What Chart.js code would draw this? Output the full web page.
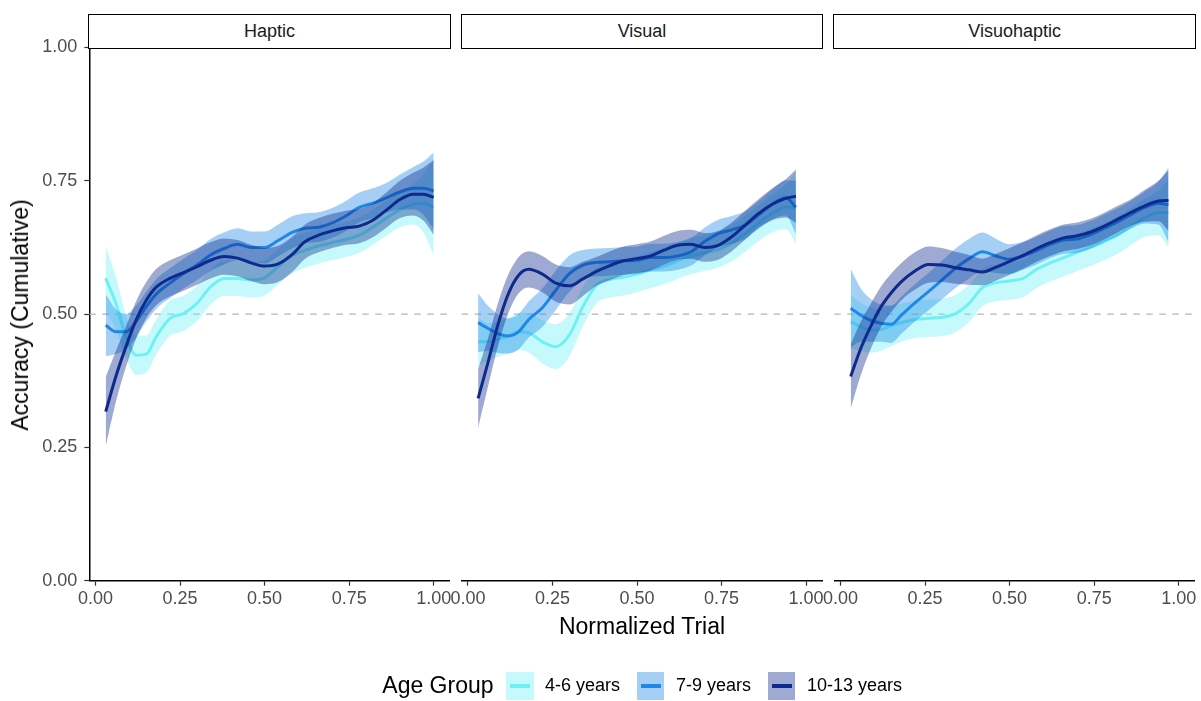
<!DOCTYPE html>
<html>
<head>
<meta charset="utf-8">
<title>Accuracy by age group and condition</title>
<script src="https://cdn.jsdelivr.net/npm/chart.js@4.4.1/dist/chart.umd.min.js"></script>
<style>
  html, body { margin: 0; padding: 0; background: #fff; }
  #page { position: relative; width: 1201px; height: 701px; overflow: hidden;
          font-family: "Liberation Sans", Arial, sans-serif; }
  canvas { position: absolute; left: 0; top: 0; }
  .strip { position: absolute; top: 13.5px; height: 35px; box-sizing: border-box;
           border: 1.8px solid #000; background: #fff; display: flex;
           align-items: center; justify-content: center; font-size: 18px; color: #1a1a1a; }
  .axis-title { position: absolute; font-size: 23px; line-height: 26px; color: #000; white-space: nowrap; }
  #ytitle { left: 20px; top: 315px; transform: translate(-50%, -50%) rotate(-90deg); }
  #xtitle { left: 642px; top: 612.5px; transform: translateX(-50%); }
  #legend { position: absolute; left: 89.3px; width: 1105.7px; top: 671.7px; height: 28.5px;
            display: flex; align-items: center; justify-content: center; }
  #legend .title { font-size: 23px; color: #000; margin-right: 12.6px; }
  #legend .key { position: relative; width: 27.4px; height: 28.5px; margin-right: 11.5px; }
  #legend .key span { position: absolute; left: 3.7px; width: 20px; top: 12.7px; height: 3.2px; }
  #legend .label { font-size: 18px; color: #000; margin-right: 17px; }
  #legend .label:last-child { margin-right: 0; }
</style>
</head>
<body>
<div id="page">
  <canvas id="panel0" width="1201" height="701"></canvas>
  <canvas id="panel1" width="1201" height="701"></canvas>
  <canvas id="panel2" width="1201" height="701"></canvas>
  <div class="axis-title" id="ytitle">Accuracy (Cumulative)</div>
  <div class="axis-title" id="xtitle">Normalized Trial</div>
  <div id="legend"></div>
</div>
<script>
// ---- data ---------------------------------------------------------------
const conditions = ['Haptic', 'Visual', 'Visuohaptic'];
const ageGroups = ['4-6 years', '7-9 years', '10-13 years'];
const legendTitle = 'Age Group';

const tickValues = [0, 0.25, 0.5, 0.75, 1];
const tickLabels = ['0.00', '0.25', '0.50', '0.75', '1.00'];
const chanceLevel = 0.5;

const hapticTrial = [0.03,0.06,0.09,0.12,0.15,0.18,0.22,0.26,0.30,0.34,0.38,0.42,0.46,0.50,0.54,0.58,0.62,0.66,0.70,0.74,0.78,0.82,0.86,0.90,0.94,0.97,1.00];
const visualTrial = [0.03,0.06,0.09,0.12,0.15,0.18,0.22,0.26,0.30,0.34,0.38,0.42,0.46,0.50,0.54,0.58,0.62,0.66,0.70,0.74,0.78,0.82,0.86,0.90,0.94,0.97];
const visuohapticTrial = [0.03,0.06,0.09,0.12,0.15,0.18,0.22,0.26,0.30,0.34,0.38,0.42,0.46,0.50,0.54,0.58,0.62,0.66,0.70,0.74,0.78,0.82,0.86,0.90,0.94,0.97];

// Haptic
const haptic4to6Fit   = [0.567,0.520,0.458,0.423,0.425,0.458,0.492,0.501,0.520,0.551,0.567,0.567,0.564,0.568,0.589,0.609,0.620,0.628,0.634,0.640,0.648,0.663,0.680,0.696,0.706,0.708,0.700];
const haptic4to6Lower = [0.507,0.470,0.418,0.386,0.390,0.425,0.459,0.468,0.487,0.518,0.534,0.534,0.531,0.535,0.556,0.576,0.587,0.595,0.601,0.607,0.615,0.630,0.647,0.663,0.668,0.653,0.610];
const haptic4to6Upper = [0.627,0.570,0.498,0.460,0.460,0.491,0.525,0.534,0.553,0.584,0.600,0.600,0.597,0.601,0.622,0.642,0.653,0.661,0.667,0.673,0.681,0.696,0.713,0.729,0.744,0.763,0.790];

const haptic7to9Fit   = [0.479,0.467,0.467,0.486,0.514,0.538,0.558,0.576,0.592,0.611,0.623,0.631,0.625,0.625,0.638,0.653,0.661,0.663,0.671,0.684,0.700,0.708,0.718,0.729,0.736,0.736,0.731];
const haptic7to9Lower = [0.421,0.425,0.434,0.456,0.486,0.510,0.530,0.548,0.564,0.581,0.593,0.601,0.595,0.595,0.608,0.623,0.633,0.635,0.643,0.656,0.672,0.680,0.690,0.696,0.696,0.686,0.659];
const haptic7to9Upper = [0.537,0.509,0.500,0.516,0.542,0.566,0.586,0.604,0.620,0.641,0.653,0.661,0.655,0.655,0.668,0.683,0.689,0.691,0.699,0.712,0.728,0.736,0.746,0.762,0.776,0.786,0.803];

const haptic10to13Fit   = [0.317,0.383,0.439,0.489,0.526,0.551,0.567,0.578,0.589,0.601,0.608,0.605,0.596,0.590,0.594,0.611,0.636,0.648,0.656,0.662,0.665,0.676,0.695,0.715,0.725,0.725,0.719];
const haptic10to13Lower = [0.252,0.335,0.401,0.454,0.492,0.517,0.533,0.544,0.555,0.567,0.574,0.571,0.562,0.556,0.560,0.578,0.604,0.616,0.624,0.630,0.633,0.644,0.662,0.680,0.685,0.675,0.649];
const haptic10to13Upper = [0.382,0.431,0.477,0.524,0.560,0.585,0.601,0.612,0.623,0.635,0.642,0.639,0.630,0.624,0.628,0.644,0.668,0.680,0.688,0.694,0.697,0.708,0.728,0.750,0.765,0.775,0.789];

// Visual
const visual4to6Fit   = [0.448,0.448,0.453,0.459,0.467,0.465,0.448,0.439,0.461,0.514,0.554,0.565,0.569,0.575,0.583,0.590,0.600,0.609,0.615,0.621,0.633,0.651,0.671,0.689,0.701,0.700];
const visual4to6Lower = [0.403,0.413,0.420,0.426,0.432,0.428,0.408,0.397,0.421,0.477,0.520,0.531,0.535,0.541,0.549,0.556,0.566,0.575,0.581,0.587,0.599,0.617,0.637,0.653,0.659,0.632];
const visual4to6Upper = [0.493,0.483,0.486,0.492,0.502,0.502,0.488,0.481,0.501,0.551,0.588,0.599,0.603,0.609,0.617,0.624,0.634,0.643,0.649,0.655,0.667,0.685,0.705,0.725,0.743,0.768];

const visual7to9Fit   = [0.484,0.473,0.463,0.459,0.467,0.490,0.512,0.545,0.576,0.592,0.597,0.598,0.600,0.601,0.606,0.606,0.609,0.617,0.636,0.651,0.658,0.667,0.686,0.706,0.718,0.700];
const visual7to9Lower = [0.429,0.431,0.427,0.426,0.434,0.456,0.476,0.508,0.542,0.564,0.571,0.572,0.574,0.575,0.580,0.580,0.583,0.591,0.610,0.625,0.632,0.641,0.660,0.678,0.685,0.650];
const visual7to9Upper = [0.539,0.515,0.499,0.492,0.500,0.524,0.548,0.582,0.610,0.620,0.623,0.624,0.626,0.627,0.632,0.632,0.635,0.643,0.662,0.677,0.684,0.693,0.712,0.734,0.751,0.750];

const visual10to13Fit   = [0.342,0.411,0.483,0.539,0.573,0.584,0.575,0.558,0.553,0.566,0.580,0.591,0.600,0.604,0.609,0.620,0.629,0.631,0.625,0.629,0.645,0.667,0.689,0.706,0.717,0.721];
const visual10to13Lower = [0.287,0.366,0.443,0.503,0.539,0.550,0.541,0.523,0.518,0.534,0.553,0.564,0.573,0.577,0.582,0.593,0.602,0.604,0.598,0.602,0.618,0.640,0.662,0.676,0.681,0.671];
const visual10to13Upper = [0.397,0.456,0.523,0.575,0.607,0.618,0.609,0.593,0.588,0.598,0.607,0.618,0.627,0.631,0.636,0.647,0.656,0.658,0.652,0.656,0.672,0.694,0.716,0.736,0.753,0.771];

// Visuohaptic
const visuohaptic4to6Fit   = [0.486,0.476,0.470,0.471,0.478,0.484,0.490,0.492,0.494,0.501,0.520,0.550,0.559,0.562,0.567,0.584,0.596,0.606,0.616,0.625,0.636,0.648,0.665,0.681,0.690,0.690];
const visuohaptic4to6Lower = [0.436,0.431,0.428,0.431,0.440,0.448,0.455,0.457,0.459,0.466,0.485,0.515,0.524,0.527,0.532,0.549,0.561,0.571,0.581,0.590,0.601,0.613,0.630,0.645,0.648,0.625];
const visuohaptic4to6Upper = [0.536,0.521,0.512,0.511,0.516,0.520,0.525,0.527,0.529,0.536,0.555,0.585,0.594,0.597,0.602,0.619,0.631,0.641,0.651,0.660,0.671,0.683,0.700,0.717,0.732,0.755];

const visuohaptic7to9Fit   = [0.511,0.498,0.488,0.483,0.481,0.498,0.521,0.542,0.564,0.586,0.604,0.617,0.609,0.603,0.609,0.619,0.631,0.639,0.641,0.649,0.661,0.673,0.687,0.700,0.708,0.705];
const visuohaptic7to9Lower = [0.437,0.448,0.448,0.448,0.446,0.463,0.486,0.507,0.528,0.549,0.567,0.581,0.577,0.575,0.583,0.593,0.605,0.613,0.615,0.623,0.635,0.647,0.661,0.670,0.668,0.635];
const visuohaptic7to9Upper = [0.585,0.548,0.528,0.518,0.516,0.533,0.556,0.577,0.600,0.623,0.641,0.653,0.641,0.631,0.635,0.645,0.657,0.665,0.667,0.675,0.687,0.699,0.713,0.730,0.748,0.775];

const visuohaptic10to13Fit   = [0.383,0.436,0.478,0.514,0.540,0.561,0.581,0.593,0.592,0.587,0.583,0.579,0.588,0.599,0.610,0.623,0.634,0.643,0.647,0.654,0.665,0.678,0.691,0.703,0.712,0.713];
const visuohaptic10to13Lower = [0.323,0.386,0.436,0.476,0.504,0.526,0.546,0.559,0.560,0.557,0.555,0.554,0.563,0.574,0.585,0.598,0.609,0.618,0.622,0.629,0.640,0.653,0.666,0.673,0.674,0.656];
const visuohaptic10to13Upper = [0.443,0.486,0.520,0.552,0.576,0.596,0.616,0.627,0.624,0.617,0.611,0.604,0.613,0.624,0.635,0.648,0.659,0.668,0.672,0.679,0.690,0.703,0.716,0.733,0.750,0.770];

// ---- styling ------------------------------------------------------------
const lineColours = ['#6ff0f5', '#1e88e5', '#0d2a8c'];
const bandColours = ['rgba(111,240,245,0.4)', 'rgba(30,136,229,0.4)', 'rgba(13,42,140,0.4)'];

const PAGE_W = 1201, PAGE_H = 701;
const panelLeft = [89.3, 461.7, 834.3];
const panelWidth = 360.6;
const panelTop = 47.5, panelBottom = 580.7;
const xAxisHeight = 40;

Chart.defaults.font.family = '"Liberation Sans", Arial, sans-serif';

const panels = [
  { trial: hapticTrial, groups: [
      [haptic4to6Fit, haptic4to6Lower, haptic4to6Upper],
      [haptic7to9Fit, haptic7to9Lower, haptic7to9Upper],
      [haptic10to13Fit, haptic10to13Lower, haptic10to13Upper] ] },
  { trial: visualTrial, groups: [
      [visual4to6Fit, visual4to6Lower, visual4to6Upper],
      [visual7to9Fit, visual7to9Lower, visual7to9Upper],
      [visual10to13Fit, visual10to13Lower, visual10to13Upper] ] },
  { trial: visuohapticTrial, groups: [
      [visuohaptic4to6Fit, visuohaptic4to6Lower, visuohaptic4to6Upper],
      [visuohaptic7to9Fit, visuohaptic7to9Lower, visuohaptic7to9Upper],
      [visuohaptic10to13Fit, visuohaptic10to13Lower, visuohaptic10to13Upper] ] }
];

function points(trial, values) {
  return trial.map((t, i) => ({ x: t, y: values[i] }));
}

// ribbon (lower/upper) then fitted line for each age group, youngest at the bottom
function buildDatasets(panel) {
  const ds = [];
  panel.groups.forEach(([fit, lower, upper], k) => {
    const common = { pointRadius: 0, cubicInterpolationMode: 'monotone' };
    ds.push({ ...common, label: ageGroups[k] + ' lower', data: points(panel.trial, lower),
              borderWidth: 0, borderColor: 'transparent', fill: false });
    ds.push({ ...common, label: ageGroups[k] + ' band', data: points(panel.trial, upper),
              borderWidth: 0, borderColor: 'transparent', backgroundColor: bandColours[k], fill: '-1' });
    ds.push({ ...common, label: ageGroups[k], data: points(panel.trial, fit),
              borderWidth: 3, borderColor: lineColours[k], fill: false, borderCapStyle: 'butt' });
  });
  ds.forEach((d, i) => { d.order = ds.length - i; });
  return ds;
}

// dashed reference line at chance accuracy
const chanceLine = {
  id: 'chanceLine',
  beforeDatasetsDraw(chart) {
    const { ctx, chartArea, scales } = chart;
    const y = scales.y.getPixelForValue(chanceLevel);
    ctx.save();
    ctx.strokeStyle = '#b5b5b5';
    ctx.lineWidth = 1.3;
    ctx.setLineDash([6.5, 6.5]);
    ctx.beginPath();
    ctx.moveTo(chartArea.left, y);
    ctx.lineTo(chartArea.right, y);
    ctx.stroke();
    ctx.restore();
  }
};

const tickGrid = { drawOnChartArea: false, drawTicks: true, tickLength: 5, tickColor: '#333', tickWidth: 1.2 };
const axisBorder = { display: true, color: '#000', width: 1.5 };

panels.forEach((panel, i) => {
  const showY = i === 0;
  new Chart(document.getElementById('panel' + i), {
    type: 'line',
    data: { datasets: buildDatasets(panel) },
    options: {
      responsive: false,
      animation: false,
      events: [],
      layout: { padding: {
        left: showY ? 0 : panelLeft[i],
        right: PAGE_W - panelLeft[i] - panelWidth,
        top: panelTop,
        bottom: PAGE_H - panelBottom - xAxisHeight } },
      plugins: { legend: { display: false }, tooltip: { enabled: false } },
      scales: {
        x: {
          type: 'linear', min: -0.0185, max: 1.048,
          afterBuildTicks: s => { s.ticks = tickValues.map(v => ({ value: v })); },
          afterFit: s => { s.height = xAxisHeight; },
          ticks: { autoSkip: false, maxRotation: 0, color: '#4d4d4d', font: { size: 18 }, padding: 3,
                   callback: (v, idx) => tickLabels[idx] },
          grid: tickGrid,
          border: axisBorder
        },
        y: {
          display: showY, min: 0, max: 1,
          afterBuildTicks: s => { s.ticks = tickValues.map(v => ({ value: v })); },
          afterFit: s => { s.width = showY ? panelLeft[0] : 0; },
          ticks: { autoSkip: false, color: '#4d4d4d', font: { size: 18 }, padding: 7,
                   callback: (v, idx) => tickLabels[idx] },
          grid: tickGrid,
          border: axisBorder
        }
      }
    },
    plugins: [chanceLine]
  });

  // facet strip
  const strip = document.createElement('div');
  strip.className = 'strip';
  strip.style.left = (panelLeft[i] - 0.9) + 'px';
  strip.style.width = (panelWidth + 1.8) + 'px';
  strip.textContent = conditions[i];
  document.getElementById('page').appendChild(strip);
});

// legend
const legend = document.getElementById('legend');
const lt = document.createElement('span');
lt.className = 'title';
lt.textContent = legendTitle;
legend.appendChild(lt);
ageGroups.forEach((g, k) => {
  const key = document.createElement('div');
  key.className = 'key';
  key.style.background = bandColours[k];
  const stroke = document.createElement('span');
  stroke.style.background = lineColours[k];
  key.appendChild(stroke);
  legend.appendChild(key);
  const label = document.createElement('span');
  label.className = 'label';
  label.textContent = g;
  legend.appendChild(label);
});
</script>
</body>
</html>
